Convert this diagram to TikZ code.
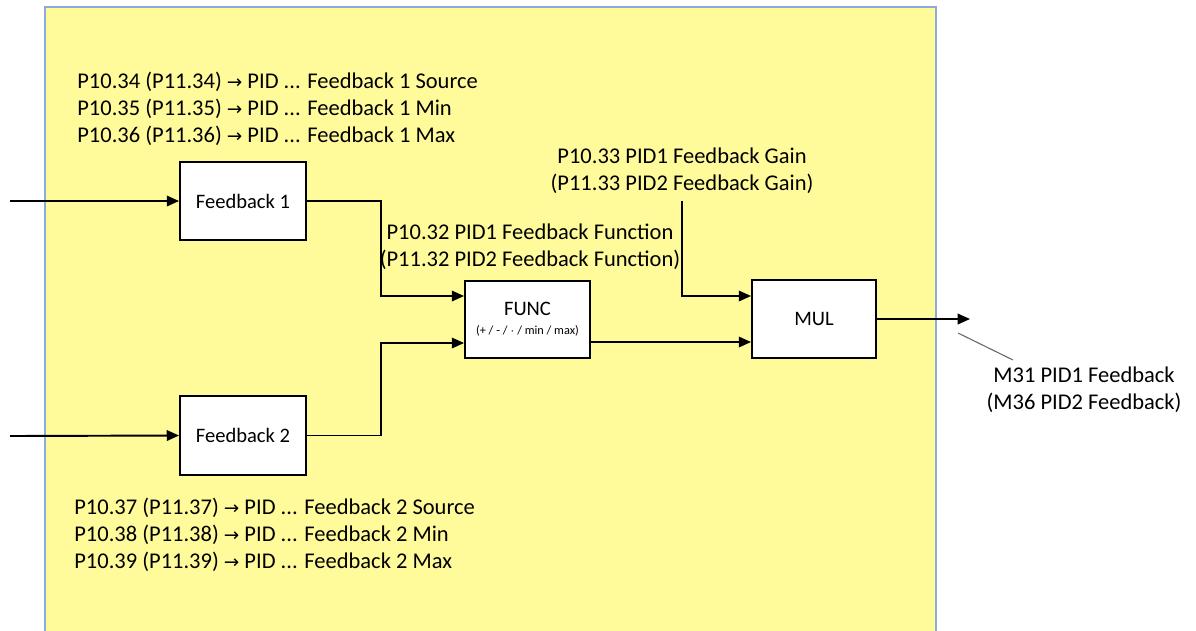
\documentclass[tikz,border=0pt]{standalone}
\usepackage{fontspec}
\setmainfont{Carlito}
\newfontfamily\symfont{DejaVu Sans}
\usetikzlibrary{arrows.meta}
\usetikzlibrary{calc,positioning}
\definecolor{panelfill}{RGB}{255,251,155}
\definecolor{panelline}{RGB}{142,170,219}
\newcommand{\ra}{{\symfont\fontsize{10.5}{10}\selectfont\raisebox{0.3pt}{→}}}

\begin{document}
\begin{tikzpicture}[x=0.02cm,y=-0.02cm,>={Triangle[length=7pt,width=6pt]},
    block/.style={draw,line width=1.1pt,fill=white,font=\fontsize{11.7}{13}\selectfont},
    wire/.style={line width=1.1pt},
    para/.style={font=\fontsize{12.8}{15.4}\selectfont,inner sep=0pt}]

    \useasboundingbox (0,0) rectangle (1196,630);
    \fill[panelfill] (45,7) rectangle (936,640);
    \draw[panelline,line width=1pt] (45,640) -- (45,7) -- (936,7) -- (936,640);

    \node[block,minimum width=2.52cm,minimum height=1.56cm] (fb-1) at (243,201) {Feedback 1};
    \node[block,minimum width=2.52cm,minimum height=1.58cm] (fb-2) at (243,435.5) {Feedback 2};
    \node[block,minimum width=2.50cm,minimum height=1.54cm,align=center] (func) at (527.5,319.5)
        {FUNC\\[-2pt]{\fontsize{7}{8}\selectfont(+ / - / $\cdot$ / min / max)}};
    \node[block,minimum width=2.48cm,minimum height=1.56cm] (mul) at (814,319) {MUL};

    \coordinate (in-1) at (10,201);
    \coordinate (in-2) at (10,436);
    \coordinate (gain) at (682,201);
    \coordinate (out) at (970,319);

    \draw[wire,->] (in-1) -- (fb-1.west);
    \draw[wire,->] (in-2) -- (fb-2.west);
    \draw[wire,->] (fb-1.east) -| (381,296) -- (func.west |- 0,296);
    \draw[wire,->] (fb-2.east) -| (381,343) -- (func.west |- 0,343);
    \draw[wire,->] (func.east |- 0,342) -- (mul.west |- 0,342);
    \draw[wire,->] (gain) |- (mul.west |- 0,296);
    \draw[wire,->] (mul.east) -- (out);

    \node[para,anchor=north west,align=left] (fb-1-par) at (77,72)
        {P10.34 (P11.34) \ra{} PID ... Feedback 1 Source\\
         P10.35 (P11.35) \ra{} PID ... Feedback 1 Min\\
         P10.36 (P11.36) \ra{} PID ... Feedback 1 Max};
    \node[para,anchor=north west,align=left] (fb-2-par) at (74,498)
        {P10.37 (P11.37) \ra{} PID ... Feedback 2 Source\\
         P10.38 (P11.38) \ra{} PID ... Feedback 2 Min\\
         P10.39 (P11.39) \ra{} PID ... Feedback 2 Max};
    \node[para,align=center] (gain-par) at (682,171)
        {P10.33 PID1 Feedback Gain\\(P11.33 PID2 Feedback Gain)};
    \node[para,align=center] (func-par) at (530,247)
        {P10.32 PID1 Feedback Function\\(P11.32 PID2 Feedback Function)};
    \node[para,align=center] (out-par) at (1084,390)
        {M31 PID1 Feedback\\(M36 PID2 Feedback)};

    \coordinate (lead-a) at (958,333);
    \coordinate (lead-b) at (1013,360);
    \draw[gray!80!black,line width=0.6pt] (lead-a) -- (lead-b);

\end{tikzpicture}
\end{document}
